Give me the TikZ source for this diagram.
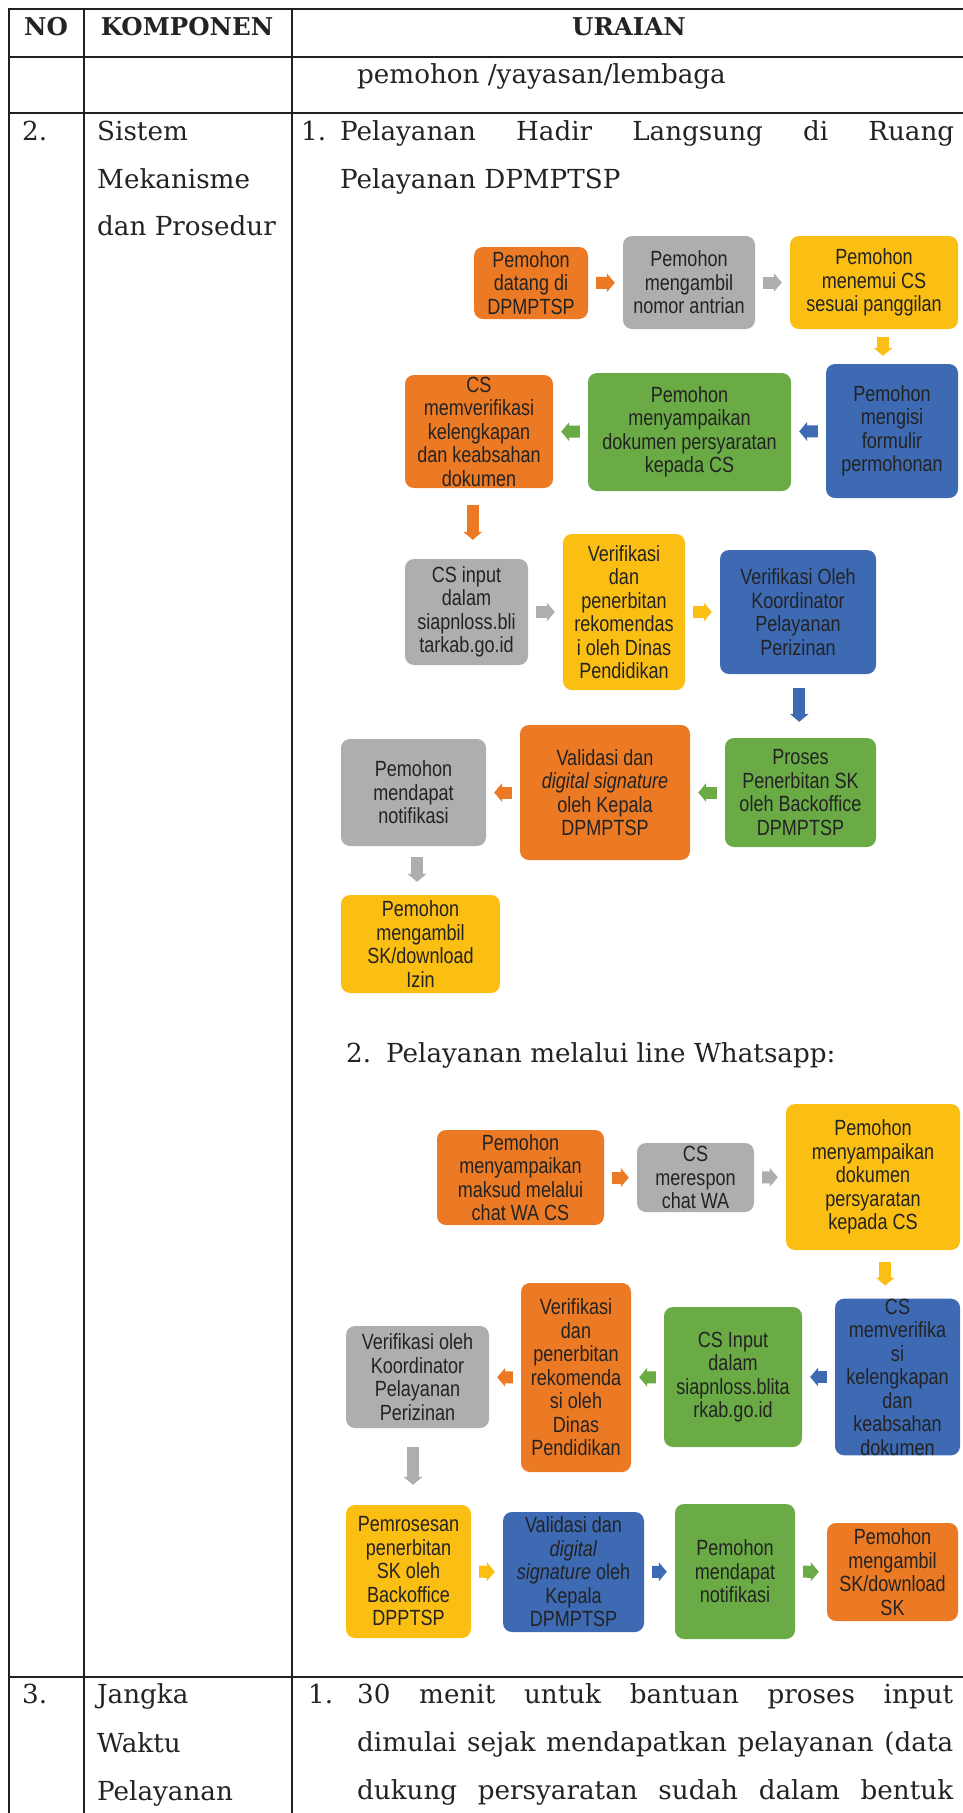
\documentclass[tikz,border=0pt]{standalone}
\usepackage{fontspec}
\usetikzlibrary{arrows.meta, calc}

\newfontfamily\boxfont[FakeStretch=0.82]{Liberation Sans}
\newfontfamily\bkfont{DejaVu Serif}

\definecolor{orng}{RGB}{236,122,36}
\definecolor{gry}{RGB}{174,174,174}
\definecolor{yel}{RGB}{251,191,20}
\definecolor{blu}{RGB}{61,106,178}
\definecolor{grn}{RGB}{106,171,70}
\definecolor{rule}{RGB}{35,31,32}
\definecolor{ink}{RGB}{35,35,35}

\begin{document}
\begin{tikzpicture}[
    x=1pt, y=-1pt,
    box/.style={rounded corners=9pt, inner sep=0pt, align=center, text=ink,
        font=\boxfont\fontsize{22}{23.5}\selectfont}, % flow boxes
    blk/.style={line width=12pt, -{Triangle[length=8pt, width=19pt, line width=0pt]},
        shorten <=8pt, shorten >=8pt}, % small block arrows
    tbl/.style={line width=2.6pt, rule, line cap=rect},
    txt/.style={anchor=base west, inner sep=0pt, text=ink,
        font=\bkfont\fontsize{26.2}{48}\selectfont},
    hdr/.style={anchor=base, inner sep=0pt, text=ink,
        font=\bkfont\bfseries\fontsize{24.5}{30}\selectfont}
]
    \useasboundingbox (0,0) rectangle (962,1813);

    % === Table rules ===
    \foreach \y in {9,57,113,1677}
        \draw[tbl] (9,\y) -- (962,\y);
    \foreach \x in {9,84,292}
        \draw[tbl] (\x,9) -- (\x,1813);

    % === Table text ===
    \node[hdr] (hno) at (46,35) {NO};
    \node[hdr] (hkomp) at (187,35) {KOMPONEN};
    \node[hdr] (hurai) at (629,35) {URAIAN};

    \node[txt] (lemb) at (357,83) {pemohon /yayasan/lembaga};

    \node[txt] (no2) at (22,140) {2.};
    \node[txt] (k2a) at (97,140) {Sistem};
    \node[txt] (k2b) at (97,188) {Mekanisme};
    \node[txt] (k2c) at (97,235) {dan Prosedur};

    \node[txt] (u1n) at (301,140) {1.};
    \node[txt] (u1a) at (340,140) {\makebox[614pt][s]{Pelayanan Hadir Langsung di Ruang}};
    \node[txt] (u1b) at (340,188) {Pelayanan DPMPTSP};

    \node[txt] (u2n) at (346,1062) {2.};
    \node[txt] (u2a) at (386,1062) {Pelayanan melalui line Whatsapp:};

    \node[txt] (no3) at (22,1703) {3.};
    \node[txt] (k3a) at (97,1703) {Jangka};
    \node[txt] (k3b) at (97,1752) {Waktu};
    \node[txt] (k3c) at (97,1800) {Pelayanan};

    \node[txt] (u3n) at (308,1703) {1.};
    \node[txt] (u3a) at (357,1703) {\makebox[596pt][s]{30 menit untuk bantuan proses input}};
    \node[txt] (u3b) at (357,1751) {\makebox[596pt][s]{dimulai sejak mendapatkan pelayanan (data}};
    \node[txt] (u3c) at (357,1799) {\makebox[596pt][s]{dukung persyaratan sudah dalam bentuk}};

    % === Flow 1: hadir langsung ===
    \node[box, fill=orng, minimum width=114pt, minimum height=72pt] (h1) at (531,283)
        {Pemohon\\datang di\\DPMPTSP};
    \node[box, fill=gry, minimum width=132pt, minimum height=93pt] (h2) at (689,282.5)
        {Pemohon\\mengambil\\nomor antrian};
    \node[box, fill=yel, minimum width=168pt, minimum height=93pt] (h3) at (874,282.5)
        {Pemohon\\menemui CS\\sesuai panggilan};
    \node[box, fill=blu, minimum width=132pt, minimum height=134pt] (h4) at (892,431)
        {Pemohon\\mengisi\\formulir\\permohonan};
    \node[box, fill=grn, minimum width=203pt, minimum height=118pt] (h5) at (689.5,432)
        {Pemohon\\menyampaikan\\dokumen persyaratan\\kepada CS};
    \node[box, fill=orng, minimum width=148pt, minimum height=113pt] (h6) at (479,431.5)
        {CS\\memverifikasi\\kelengkapan\\dan keabsahan\\dokumen};
    \node[box, fill=gry, minimum width=123pt, minimum height=106pt] (h7) at (466.5,612)
        {CS input\\dalam\\siapnloss.bli\\tarkab.go.id};
    \node[box, fill=yel, minimum width=122pt, minimum height=156pt] (h8) at (624,612)
        {Verifikasi\\dan\\penerbitan\\rekomendas\\i oleh Dinas\\Pendidikan};
    \node[box, fill=blu, minimum width=156pt, minimum height=124pt] (h9) at (798,612)
        {Verifikasi Oleh\\Koordinator\\Pelayanan\\Perizinan};
    \node[box, fill=grn, minimum width=151pt, minimum height=109pt] (h10) at (800.5,792.5)
        {Proses\\Penerbitan SK\\oleh Backoffice\\DPMPTSP};
    \node[box, fill=orng, minimum width=170pt, minimum height=135pt] (h11) at (605,792.5)
        {Validasi dan\\\textit{digital signature}\\oleh Kepala\\DPMPTSP};
    \node[box, fill=gry, minimum width=145pt, minimum height=107pt] (h12) at (413.5,792.5)
        {Pemohon\\mendapat\\notifikasi};
    \node[box, fill=yel, minimum width=159pt, minimum height=98pt] (h13) at (420.5,944)
        {Pemohon\\mengambil\\SK/download\\Izin};

    \draw[blk, orng] (h1) -- (h2);
    \draw[blk, gry] (h2) -- (h3);
    \path ($(h3.south)!.5!(h4.north)$) coordinate (m34);
    \draw[blk, yel] (h3.south -| m34) -- (h4.north -| m34);
    \draw[blk, blu] (h4) -- (h5);
    \draw[blk, grn] (h5) -- (h6);
    \path ($(h6.south)!.5!(h7.north)$) coordinate (m67);
    \draw[blk, orng, shorten <=17pt, shorten >=19pt] (h6.south -| m67) -- (h7.north -| m67);
    \draw[blk, gry] (h7) -- (h8);
    \draw[blk, yel] (h8) -- (h9);
    \path ($(h9.south)!.5!(h10.north)$) coordinate (m910);
    \draw[blk, blu, shorten <=14pt, shorten >=16pt] (h9.south -| m910) -- (h10.north -| m910);
    \draw[blk, grn] (h10) -- (h11);
    \draw[blk, orng] (h11) -- (h12);
    \path ($(h12.south)!.5!(h13.north)$) coordinate (m1213);
    \draw[blk, gry, shorten <=11pt, shorten >=13pt] (h12.south -| m1213) -- (h13.north -| m1213);

    % === Flow 2: line Whatsapp ===
    \node[box, fill=orng, minimum width=167pt, minimum height=95pt] (w1) at (520.5,1177.5)
        {Pemohon\\menyampaikan\\maksud melalui\\chat WA CS};
    \node[box, fill=gry, minimum width=117pt, minimum height=69pt] (w2) at (695.5,1177.5)
        {CS\\merespon\\chat WA};
    \node[box, fill=yel, minimum width=174pt, minimum height=146pt] (w3) at (873,1177)
        {Pemohon\\menyampaikan\\dokumen\\persyaratan\\kepada CS};
    \node[box, fill=blu, minimum width=125pt, minimum height=154pt] (w4) at (897.5,1377)
        {CS\\memverifika\\si\\kelengkapan\\dan\\keabsahan\\dokumen};
    \node[box, fill=grn, minimum width=138pt, minimum height=140pt] (w5) at (733,1377)
        {CS Input\\dalam\\siapnloss.blita\\rkab.go.id};
    \node[box, fill=orng, minimum width=110pt, minimum height=189pt] (w6) at (576,1377.5)
        {Verifikasi\\dan\\penerbitan\\rekomenda\\si oleh\\Dinas\\Pendidikan};
    \node[box, fill=gry, minimum width=143pt, minimum height=102pt] (w7) at (417.5,1377)
        {Verifikasi oleh\\Koordinator\\Pelayanan\\Perizinan};
    \node[box, fill=yel, minimum width=125pt, minimum height=133pt] (w8) at (408.5,1571.5)
        {Pemrosesan\\penerbitan\\SK oleh\\Backoffice\\DPPTSP};
    \node[box, fill=blu, minimum width=141pt, minimum height=120pt] (w9) at (573.5,1572)
        {Validasi dan\\\textit{digital}\\\textit{signature} oleh\\Kepala\\DPMPTSP};
    \node[box, fill=grn, minimum width=120pt, minimum height=135pt] (w10) at (735,1571.5)
        {Pemohon\\mendapat\\notifikasi};
    \node[box, fill=orng, minimum width=131pt, minimum height=98pt] (w11) at (892.5,1572)
        {Pemohon\\mengambil\\SK/download\\SK};

    \draw[blk, orng] (w1) -- (w2);
    \draw[blk, gry] (w2) -- (w3);
    \path ($(w3.south)!.5!(w4.north)$) coordinate (n34);
    \draw[blk, yel, shorten <=12pt, shorten >=13pt] (w3.south -| n34) -- (w4.north -| n34);
    \draw[blk, blu] (w4) -- (w5);
    \draw[blk, grn] (w5) -- (w6);
    \draw[blk, orng] (w6) -- (w7);
    \path ($(w7.south)!.5!(w8.north)$) coordinate (n78);
    \draw[blk, gry, shorten <=19pt, shorten >=20pt] (w7.south -| n78) -- (w8.north -| n78);
    \draw[blk, yel] (w8) -- (w9);
    \draw[blk, blu] (w9) -- (w10);
    \draw[blk, grn] (w10) -- (w11);

\end{tikzpicture}
\end{document}
